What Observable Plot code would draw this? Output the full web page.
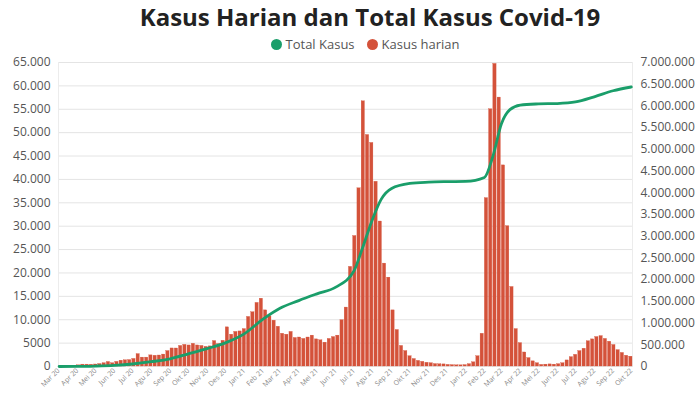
<!DOCTYPE html>
<html><head><meta charset="utf-8">
<script src="https://cdn.jsdelivr.net/npm/d3@7"></script>
<script src="https://cdn.jsdelivr.net/npm/@observablehq/plot@0.6"></script>
<style>
body{margin:0;background:#fff;font-family:"Open Sans",sans-serif;width:700px;height:400px;overflow:hidden}
#title{font-size:24px;font-weight:700;color:#222;text-align:center;height:34px;line-height:34px;padding-left:40px}
#legend{display:flex;justify-content:center;gap:12px;font-size:13px;color:#555;height:20px;align-items:center;padding-left:30px}
.sw{display:inline-block;width:11px;height:11px;border-radius:50%;margin-right:4px;vertical-align:-1px}
</style></head><body>
<div id="title">Kasus Harian dan Total Kasus Covid-19</div>
<div id="legend"></div>
<div id="chart"></div>
<script>
const seriesNames = ["Total Kasus", "Kasus harian"];
const seriesColors = ["#1a9e6a", "#d4523a"];

// weekly (week starting Monday) daily-case levels, starting 2020-03-02
const weekStart = "2020-03-02";
const dailyCases = [
  3,30,110,150,250, 400,400,380,430, 530,700,970,700, 990,1240,1330,1380,1620,
  2650,1900,1900,2380, 2300,2350,2550,3300,3860, 3850,4400,4630,4500,
  4850,4500,4400,4200, 4300,5440,4800,5500,8370, 6800,7400,7500,8000,
  10600,11600,13600,14500, 12000,10700,9800,8500, 7000,6800,7400,6100,6200,
  5900,6200,6600,5800, 5600,5100,5900,6300,6600, 9900,12600,21300,27900,
  38100,56700,49500,47800, 39500,31000,22000,19000,12000, 7800,4400,3300,2200,
  1600,1200,1000,800, 700,520,480,450,350, 300,250,250,300,
  500,900,2200,7000,36000, 55000,64700,57500,43000, 30000,17000,8000,5000,
  3000,1800,1100,700, 350,400,450,400,500, 700,1300,2000,2500,
  3300,3800,5400,5800, 6300,6500,5900,5300,4600, 3500,2900,2300,2100
];

const totalDates = [
  "2020-03-02","2020-04-01","2020-05-01","2020-06-01","2020-07-01","2020-08-01",
  "2020-09-01","2020-10-01","2020-11-01","2020-12-01","2021-01-01","2021-02-01",
  "2021-03-01","2021-04-01","2021-05-01","2021-06-01","2021-07-01","2021-07-15",
  "2021-08-01","2021-08-15","2021-09-01","2021-10-01","2021-11-01","2021-12-01",
  "2022-01-01","2022-02-01","2022-02-15","2022-03-01","2022-03-15","2022-04-01",
  "2022-05-01","2022-06-01","2022-07-01","2022-08-01","2022-09-01","2022-10-01"
];
const totalCases = [
  2,1677,10551,26940,57770,109936,
  177571,291182,412784,543975,751270,1089308,
  1341314,1517854,1672880,1826527,2203108,2726803,
  3409658,3854354,4100138,4215104,4244761,4256409,
  4262720,4353370,4844279,5589176,5914132,6019981,
  6046467,6055253,6090779,6210000,6350000,6436000
];

const leftTicks = [0,5000,10000,15000,20000,25000,30000,35000,40000,45000,50000,55000,60000,65000];
const rightTicks = [0,500000,1000000,1500000,2000000,2500000,3000000,3500000,4000000,4500000,5000000,5500000,6000000,6500000,7000000];
const xStart = "2020-03-01", xEnd = "2022-10-03";

// legend
document.getElementById("legend").innerHTML = seriesNames.map((n,i) =>
  `<span><span class="sw" style="background:${seriesColors[i]}"></span>${n}</span>`).join("");

const leftMax = leftTicks[leftTicks.length-1];
const rightMax = rightTicks[rightTicks.length-1];
const ratio = leftMax / rightMax;
const start = new Date(weekStart);
const bars = dailyCases.map((v,i) => ({date: d3.utcDay.offset(start, 7*i), value: v}));
const totals = totalDates.map((d,i) => ({date: new Date(d), value: totalCases[i] * ratio}));
const group = n => String(Math.round(n)).replace(/\B(?=(\d{3})+(?!\d))/g, ".");
const fmtLeft = v => v >= 10000 ? group(v) : String(v);
const fmtRight = v => group(v);
const monthNames = ["Jan","Feb","Mar","Apr","Mei","Jun","Jul","Agu","Sep","Okt","Nov","Des"];

const chart = Plot.plot({
  width: 700, height: 346,
  marginTop: 8, marginBottom: 34, marginLeft: 58, marginRight: 68,
  style: {fontFamily: "Open Sans, sans-serif", fontSize: "12px", color: "#555", background: "#fff"},
  x: {type: "utc", domain: [new Date(xStart), new Date(xEnd)], axis: null},
  y: {domain: [0, leftMax], axis: null},
  marks: [
    Plot.gridY(leftTicks, {stroke: "#e4e4e4", strokeOpacity: 1}),
    Plot.frame({anchor: "left", stroke: "#ececec"}),
    Plot.frame({anchor: "right", stroke: "#ececec"}),
    Plot.rectY(bars, {x: "date", y: "value", interval: d3.utcMonday, fill: seriesColors[1], stroke: seriesColors[1], strokeWidth: 0.3}),
    Plot.line(totals, {x: "date", y: "value", stroke: seriesColors[0], strokeWidth: 2.8, curve: "monotone-x"}),
    Plot.axisY(leftTicks, {anchor: "left", tickSize: 0, tickPadding: 8, tickFormat: fmtLeft, label: null, fill: "#555"}),
    Plot.axisY(rightTicks.map(t => t * ratio), {anchor: "right", tickSize: 0, tickPadding: 8, tickFormat: d => fmtRight(d / ratio), label: null, fill: "#555"}),
    Plot.axisX({ticks: d3.utcMonth.every(1), tickFormat: d => monthNames[d.getUTCMonth()] + " " + String(d.getUTCFullYear()).slice(2), tickRotate: -45, tickSize: 0, tickPadding: 3, fontSize: 7, label: null, fill: "#888"})
  ]
});
document.getElementById("chart").appendChild(chart);
</script>
</body></html>
